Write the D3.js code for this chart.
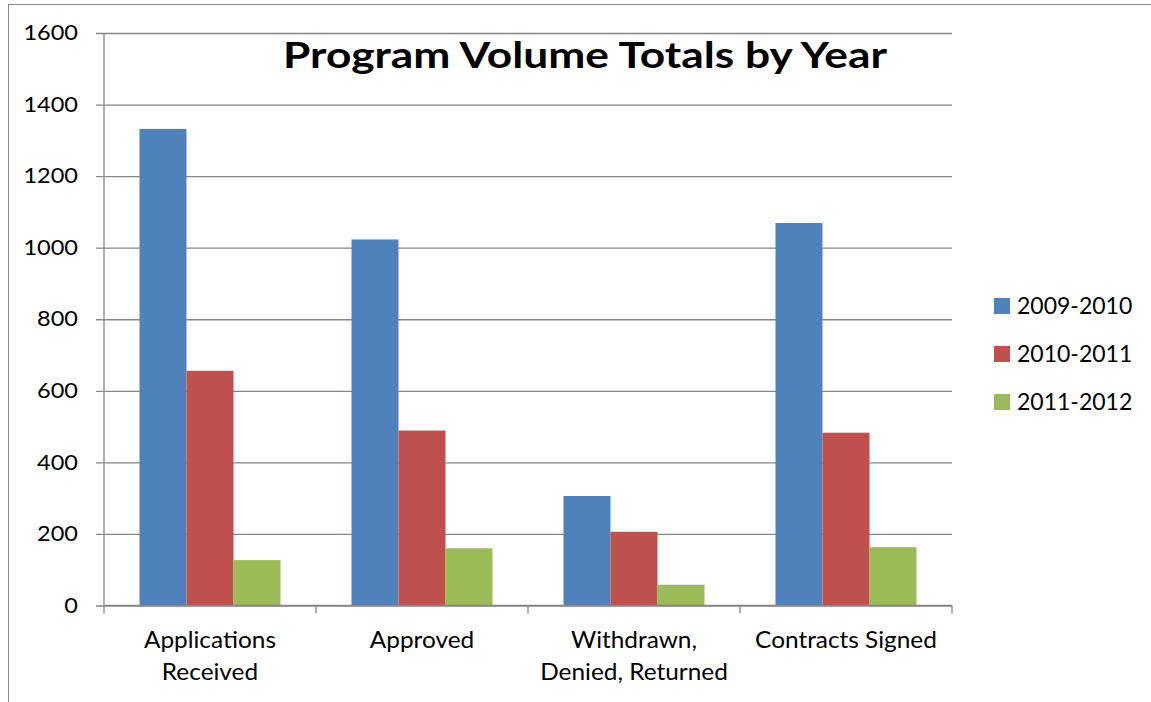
<!DOCTYPE html>
<html lang="en">
<head>
<meta charset="UTF-8">
<title>Program Volume Totals by Year</title>
<script src="https://d3js.org/d3.v7.min.js"></script>
<style>
  body { margin: 0; background: #fff; }
  text { font-family: Lato, "Open Sans", sans-serif; fill: #000; }
</style>
</head>
<body>
<svg id="chart" width="1151" height="702"></svg>
<script>
// data
const categories = [["Applications", "Received"], ["Approved"], ["Withdrawn,", "Denied, Returned"], ["Contracts Signed"]];
const seriesNames = ["2009-2010", "2010-2011", "2011-2012"];
const values2009 = [1332, 1023, 306, 1069];
const values2010 = [656, 489, 206, 483];
const values2011 = [127, 160, 58, 163];
const yTicks = [0, 200, 400, 600, 800, 1000, 1200, 1400, 1600];
const colors = ["#4f81bd", "#c0504d", "#9bbb59"];

const series = [values2009, values2010, values2011];
const svg = d3.select("#chart");
const grid = "#868686";

// widen glyphs a bit, the original font (Calibri) is wider than Lato at the same height
function stretch(sel, k) {
  sel.each(function() {
    const w = this.getComputedTextLength();
    d3.select(this).attr("textLength", w * k).attr("lengthAdjust", "spacingAndGlyphs");
  });
}

// outer frame
svg.append("line").attr("x1", 8).attr("x2", 1151).attr("y1", 4.5).attr("y2", 4.5).attr("stroke", "#8c8c8c");
svg.append("line").attr("x1", 8.5).attr("x2", 8.5).attr("y1", 4).attr("y2", 702).attr("stroke", "#8c8c8c");

const plotL = 104, plotR = 952, plotT = 33, plotB = 605.5;
const x = d3.scaleBand().domain(d3.range(categories.length)).range([plotL, plotR]).paddingInner(0).paddingOuter(0);
const inner = d3.scaleBand().domain(d3.range(seriesNames.length)).range([35.5, x.bandwidth() - 35.5]);
const y = d3.scaleLinear().domain([0, 1600]).range([plotB, plotT]);

// gridlines + y axis
const yAxis = d3.axisLeft(y).tickValues(yTicks).tickSize(-(plotR - plotL)).tickSizeOuter(0).tickPadding(26).tickFormat(d3.format("d"));
const gy = svg.append("g").attr("transform", `translate(${plotL},0)`).call(yAxis);
gy.select(".domain").remove();
gy.selectAll(".tick line").attr("stroke", grid).attr("stroke-width", 1.3).attr("x1", -8);
gy.selectAll(".tick text").attr("font-size", 21).attr("font-family", "Lato, sans-serif").attr("fill", "#000");
stretch(gy.selectAll(".tick text"), 1.12);

svg.append("line").attr("x1", plotL).attr("x2", plotL).attr("y1", plotT).attr("y2", plotB)
  .attr("stroke", grid).attr("stroke-width", 1.3);

// bars
series.forEach((vals, s) => {
  svg.append("g").selectAll("rect").data(vals).join("rect")
    .attr("x", (d, i) => x(i) + inner(s))
    .attr("width", inner.bandwidth())
    .attr("y", d => y(d))
    .attr("height", d => y(0) - y(d))
    .attr("fill", colors[s]);
});

// x axis line and category ticks
svg.append("line").attr("x1", plotL).attr("x2", plotR).attr("y1", plotB).attr("y2", plotB)
  .attr("stroke", grid).attr("stroke-width", 1.3);
svg.append("g").selectAll("line").data(d3.range(categories.length + 1)).join("line")
  .attr("x1", i => plotL + i * x.bandwidth()).attr("x2", i => plotL + i * x.bandwidth())
  .attr("y1", plotB).attr("y2", plotB + 8)
  .attr("stroke", grid).attr("stroke-width", 1.3);

// category labels, one text per line
const lines = categories.flatMap((c, i) => c.map((t, j) => ({ t, i, j })));
const lbl = svg.append("g").selectAll("text").data(lines).join("text")
  .attr("x", d => x(d.i) + x.bandwidth() / 2)
  .attr("y", d => 648 + d.j * 32)
  .attr("text-anchor", "middle")
  .attr("font-size", 23)
  .text(d => d.t);
stretch(lbl, 1.06);

// title
const title = svg.append("text").attr("x", 585).attr("y", 68).attr("text-anchor", "middle")
  .attr("font-size", 36).attr("font-weight", "bold").text("Program Volume Totals by Year");
title.attr("textLength", 604).attr("lengthAdjust", "spacingAndGlyphs");

// legend
const leg = svg.append("g").selectAll("g").data(seriesNames).join("g")
  .attr("transform", (d, i) => `translate(994,${298 + i * 48})`);
leg.append("rect").attr("width", 16).attr("height", 16).attr("fill", (d, i) => colors[i]);
leg.append("text").attr("x", 23).attr("y", 16).attr("font-size", 23).text(d => d);
</script>
</body>
</html>
